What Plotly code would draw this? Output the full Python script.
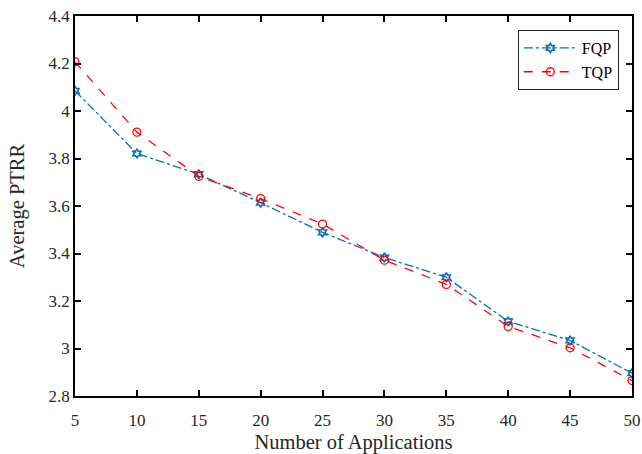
import plotly.graph_objects as go

apps = [5, 10, 15, 20, 25, 30, 35, 40, 45, 50]
fqp = [4.085, 3.821, 3.734, 3.614, 3.489, 3.383, 3.300, 3.114, 3.034, 2.896]
tqp = [4.207, 3.911, 3.725, 3.631, 3.524, 3.372, 3.270, 3.093, 3.003, 2.865]
x_ticks = [5, 10, 15, 20, 25, 30, 35, 40, 45, 50]
y_ticks = [2.8, 3.0, 3.2, 3.4, 3.6, 3.8, 4.0, 4.2, 4.4]
y_labels = ["2.8", "3", "3.2", "3.4", "3.6", "3.8", "4", "4.2", "4.4"]

fig = go.Figure()
fig.add_trace(go.Scatter(
    x=apps, y=fqp, name="FQP", mode="lines+markers",
    line=dict(color="#0072BD", width=1.3, dash="dashdot"),
    marker=dict(symbol="hexagram-open", size=7, color="#0072BD", line=dict(width=1.6, color="#0072BD")),
))
fig.add_trace(go.Scatter(
    x=apps, y=tqp, name="TQP", mode="lines+markers",
    line=dict(color="#FF0000", width=1.3, dash="dash"),
    marker=dict(symbol="circle-open", size=8, color="#FF0000", line=dict(width=1.3, color="#FF0000")),
))

axis_common = dict(
    showline=True, linecolor="black", linewidth=1.5, mirror="ticks",
    ticks="inside", ticklen=6, tickwidth=1.5, tickcolor="black",
    showgrid=False, zeroline=False, automargin=False,
    tickfont=dict(family="Liberation Serif", size=17, color="#262626"),
)

fig.update_layout(
    width=642, height=454,
    margin=dict(l=75, r=10, t=16, b=58),
    paper_bgcolor="white", plot_bgcolor="white",
    font=dict(family="Liberation Serif", color="#262626"),
    xaxis=dict(range=[5, 50], tickvals=x_ticks, ticklabelstandoff=8,
               title=dict(text="Number of Applications", font=dict(size=20.5, family="Liberation Serif"), standoff=8),
               **axis_common),
    yaxis=dict(range=[2.8, 4.4], tickvals=y_ticks, ticktext=y_labels,
               title=dict(text="Average PTRR", font=dict(size=20.5, family="Liberation Serif"), standoff=18),
               **axis_common),
    legend=dict(x=0.795, y=0.963, xanchor="left", yanchor="top",
                bordercolor="#262626", borderwidth=1, bgcolor="white",
                font=dict(family="Liberation Serif", size=16, color="black"),
                itemwidth=53, tracegroupgap=0),
    showlegend=True,
)

fig.write_html("out.html")
